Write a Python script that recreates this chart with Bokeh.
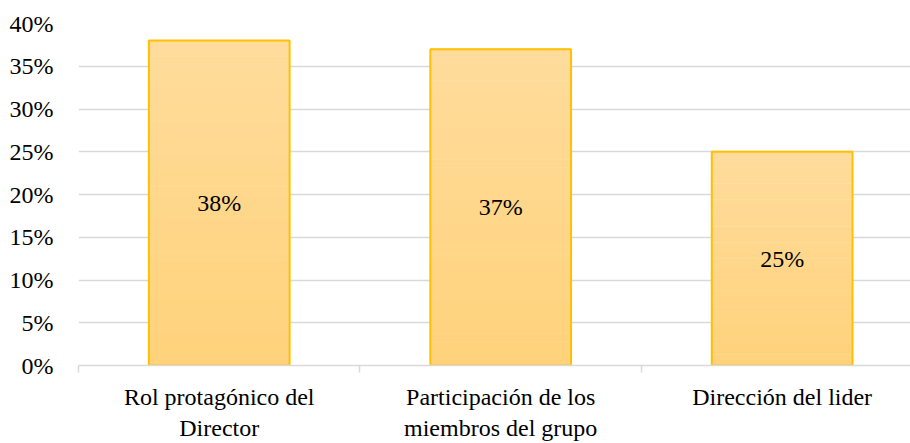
from bokeh.plotting import figure
from bokeh.models import Range1d, FixedTicker, ColumnDataSource
from bokeh.embed import file_html
from bokeh.resources import INLINE

categories = ["Rol protagónico del Director",
              "Participación de los miembros del grupo",
              "Dirección del lider"]
tick_labels = ["Rol protagónico del\nDirector",
               "Participación de los\nmiembros del grupo",
               "Dirección del lider"]
values = [0.38, 0.37, 0.25]
y_ticks = [0.0, 0.05, 0.10, 0.15, 0.20, 0.25, 0.30, 0.35, 0.40]
y_tick_labels = ["0%", "5%", "10%", "15%", "20%", "25%", "30%", "35%", "40%"]

FONT = "Liberation Serif"
FS = "24px"

xs = [i + 0.5 for i in range(len(categories))]

p = figure(width=910, height=443, output_backend="svg", toolbar_location=None,
           x_range=Range1d(0, 2.956), y_range=Range1d(0, 0.40),
           min_border_left=78, min_border_right=0, min_border_top=23,
           min_border_bottom=78)
p.outline_line_color = None
p.background_fill_color = "white"

# gradient bars: slices computed from each value
N = 40
top_rgb = (255, 220, 156)
bot_rgb = (255, 210, 123)
sx, sb, st, sc = [], [], [], []
for x, v in zip(xs, values):
    for k in range(N):
        t = (k + 0.5) / N
        c = tuple(int(round(b + (a - b) * t)) for a, b in zip(top_rgb, bot_rgb))
        sx.append(x)
        sb.append(v * k / N)
        st.append(v * (k + 1) / N + v * 0.002)
        sc.append("#%02x%02x%02x" % c)
p.vbar(x=sx, bottom=sb, top=st, width=0.5, fill_color=sc, line_color=None)
p.vbar(x=xs, top=values, width=0.5, fill_color=None, line_color="#FFC000", line_width=2)

src = ColumnDataSource(dict(x=xs, y=[v / 2 for v in values],
                            t=[f"{round(v * 100)}%" for v in values]))
p.text(x="x", y="y", text="t", source=src, text_align="center",
       text_baseline="middle", text_font={"value": FONT}, text_font_size=FS,
       text_color="#000000")

# y axis
p.yaxis.ticker = FixedTicker(ticks=y_ticks)
p.yaxis.major_label_overrides = {t: l for t, l in zip(y_ticks, y_tick_labels)}
p.yaxis.axis_line_color = None
p.yaxis.major_tick_line_color = None
p.yaxis.minor_tick_line_color = None
p.yaxis.major_tick_out = 0
p.yaxis.major_label_standoff = 25
p.yaxis.major_label_text_font = FONT
p.yaxis.major_label_text_font_size = FS
p.yaxis.major_label_text_color = "#000000"

# x axis
p.xaxis.ticker = FixedTicker(ticks=xs, minor_ticks=[0, 1, 2, 3])
p.xaxis.major_label_overrides = {x: l for x, l in zip(xs, tick_labels)}
p.xaxis.axis_line_color = "#D9D9D9"
p.xaxis.axis_line_width = 1.5
p.xaxis.major_tick_line_color = None
p.xaxis.major_tick_out = 0
p.xaxis.major_tick_in = 0
p.xaxis.minor_tick_line_color = "#D9D9D9"
p.xaxis.minor_tick_line_width = 1.5
p.xaxis.minor_tick_out = 7
p.xaxis.minor_tick_in = 0
p.xaxis.major_label_standoff = 11
p.xaxis.major_label_text_font = FONT
p.xaxis.major_label_text_font_size = FS
p.xaxis.major_label_text_color = "#000000"
p.xaxis.major_label_text_line_height = 1.2

p.xgrid.grid_line_color = None
p.ygrid.ticker = FixedTicker(ticks=y_ticks)
p.ygrid.grid_line_color = "#D9D9D9"
p.ygrid.grid_line_width = 1.5

open("out.html", "w").write(file_html(p, INLINE))
